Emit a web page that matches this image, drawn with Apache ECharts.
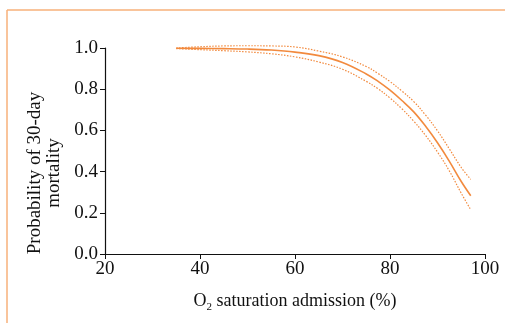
<!DOCTYPE html>
<html>
<head>
<meta charset="utf-8">
<script src="https://cdn.jsdelivr.net/npm/echarts@6/dist/echarts.min.js"></script>
<style>
html, body { margin: 0; padding: 0; background: #fff; }
#main { width: 505px; height: 323px; }
</style>
</head>
<body>
<div id="main"></div>
<script>
// O2 saturation at admission (%)
var sat   = [35, 40, 45, 50, 55, 60, 65, 70, 75, 77.5, 80, 82.5, 85, 87.5, 90, 92.5, 95, 97];
// predicted 30-day mortality and its confidence band
var prob  = [0.999, 0.998, 0.997, 0.995, 0.990, 0.980, 0.963, 0.930, 0.874, 0.838, 0.795, 0.745, 0.690, 0.620, 0.540, 0.450, 0.352, 0.283];
var upper = [1.000, 1.006, 1.010, 1.011, 1.010, 1.005, 0.985, 0.957, 0.910, 0.876, 0.837, 0.791, 0.740, 0.674, 0.598, 0.510, 0.420, 0.362];
var lower = [0.997, 0.992, 0.987, 0.981, 0.972, 0.957, 0.932, 0.897, 0.838, 0.802, 0.757, 0.705, 0.645, 0.575, 0.495, 0.403, 0.295, 0.215];

var xTicks = [20, 40, 60, 80, 100];
var yTicks = [0, 0.2, 0.4, 0.6, 0.8, 1.0];

var orange = '#f28a3e';
var serif = '"Liberation Serif", "DejaVu Serif", serif';

function pairs(ys) {
  return sat.map(function (x, i) { return [x, ys[i]]; });
}

var myChart = echarts.init(document.getElementById('main'));

var option = {
  animation: false,
  backgroundColor: '#fff',
  grid: { left: 105, right: 20, top: 48, bottom: 69 },
  graphic: [
    { type: 'line', shape: { x1: 7, y1: 10, x2: 505, y2: 10 }, style: { stroke: '#f7b07a', lineWidth: 1.5 } },
    { type: 'line', shape: { x1: 7, y1: 10, x2: 7, y2: 323 }, style: { stroke: '#f7b07a', lineWidth: 1.5 } }
  ],
  xAxis: {
    type: 'value',
    min: xTicks[0], max: xTicks[xTicks.length - 1], interval: 20,
    name: '{n|O}{s|2}{n| saturation admission (%)}',
    nameLocation: 'middle', nameGap: 36,
    nameTextStyle: {
      rich: {
        n: { fontFamily: serif, fontSize: 18, color: '#111' },
        s: { fontFamily: serif, fontSize: 11, color: '#111', padding: [12, 0, 0, 0] }
      }
    },
    axisLine: { lineStyle: { color: '#111', width: 1.2 } },
    axisTick: { show: true, length: 5, lineStyle: { color: '#111' } },
    axisLabel: { fontFamily: serif, fontSize: 19, color: '#111', margin: 6 },
    splitLine: { show: false }
  },
  yAxis: {
    type: 'value',
    min: yTicks[0], max: yTicks[yTicks.length - 1], interval: 0.2,
    name: 'Probability of 30-day\nmortality',
    nameLocation: 'middle', nameGap: 41, nameRotate: 90,
    nameTextStyle: { fontFamily: serif, fontSize: 19, color: '#111', lineHeight: 19, padding: [0, 44, 0, 0] },
    axisLine: { show: true, lineStyle: { color: '#111', width: 1.2 } },
    axisTick: { show: true, length: 5, lineStyle: { color: '#111' } },
    axisLabel: { fontFamily: serif, fontSize: 19, color: '#111', margin: 7,
      formatter: function (v) { return v.toFixed(1); } },
    splitLine: { show: false }
  },
  series: [
    { type: 'line', data: pairs(prob), smooth: 0.4, symbol: 'none', clip: false,
      lineStyle: { color: orange, width: 1.6 } },
    { type: 'line', data: pairs(upper), smooth: 0.4, symbol: 'none', clip: false,
      lineStyle: { color: orange, width: 1.2, type: [1.5, 1.5] } },
    { type: 'line', data: pairs(lower), smooth: 0.4, symbol: 'none', clip: false,
      lineStyle: { color: orange, width: 1.2, type: [1.5, 1.5] } }
  ]
};

myChart.setOption(option);
</script>
</body>
</html>
